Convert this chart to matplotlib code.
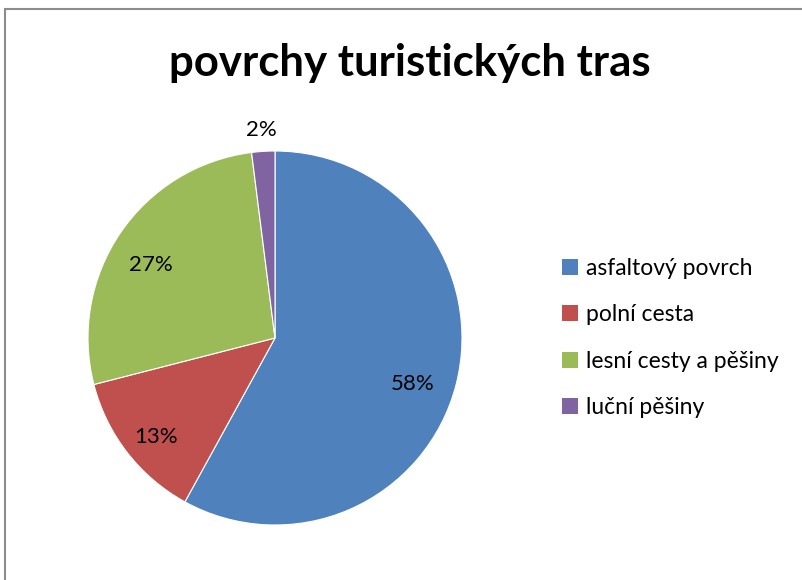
import matplotlib.pyplot as plt
from matplotlib.patches import Rectangle, Patch

# data
categories = ['asfaltový povrch', 'polní cesta', 'lesní cesty a pěšiny', 'luční pěšiny']
values = [58, 13, 27, 2]
colors = ['#4F81BD', '#C0504D', '#9BBB59', '#8064A2']
title = 'povrchy turistických tras'

plt.rcParams['font.family'] = ['Lato', 'DejaVu Sans']

W, H = 803, 580
fig = plt.figure(figsize=(W / 100, H / 100), dpi=100)

# frame of the chart area (only left and top visible)
fig.patches.append(Rectangle((5.5 / W, -0.1), 1.2, (H - 8.5) / H + 0.1,
                             transform=fig.transFigure, fill=False,
                             edgecolor='#8c8c8c', linewidth=1.5))

cx, cy, r = 275, 338, 187
ax = fig.add_axes([(cx - r) / W, (H - cy - r) / H, 2 * r / W, 2 * r / H])
wedges, texts, autotexts = ax.pie(values, colors=colors, startangle=90,
                                  counterclock=False, radius=1,
                                  autopct='%d%%', pctdistance=0.78,
                                  wedgeprops=dict(edgecolor='white', linewidth=0.8),
                                  textprops=dict(fontsize=16, color='black'))
# excel puts the labels a bit lower
for t in autotexts[:3]:
    x, y = t.get_position()
    t.set_position((x - 0.02, y - 0.05))
# the small slice gets its label outside
autotexts[3].set_position((-0.075, 1.11))
ax.set_xlim(-1, 1)
ax.set_ylim(-1, 1)
ax.axis('off')

fig.text(410 / W, 1 - 63 / H, title, ha='center', va='center',
         fontsize=31.5, fontweight='bold')

handles = [Patch(facecolor=c, edgecolor='none') for c in colors]
fig.legend(handles, categories, loc='upper left',
           bbox_to_anchor=(553 / W, 1 - 249 / H), frameon=False,
           fontsize=16.5, handlelength=0.7, handleheight=0.7,
           handletextpad=0.35, labelspacing=1.1, borderaxespad=0)

fig.savefig('out.png', dpi=100)
